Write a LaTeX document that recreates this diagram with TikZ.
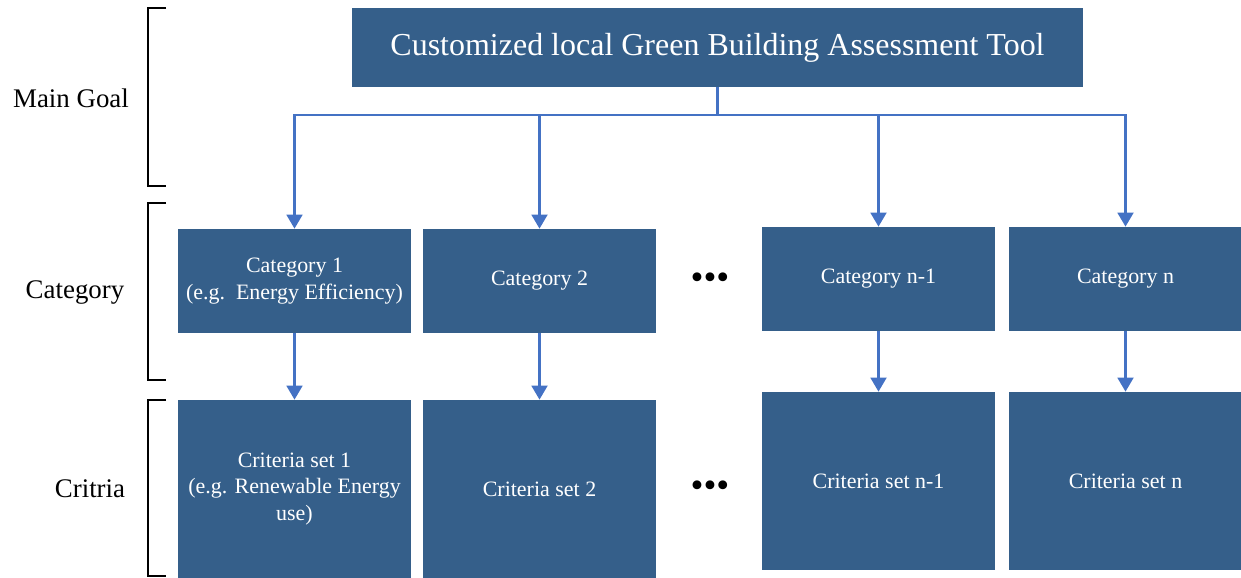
\documentclass[tikz,border=0pt]{standalone}
\usepackage{fontspec}
\setmainfont{Liberation Serif}
\usetikzlibrary{arrows.meta}
\definecolor{boxblue}{RGB}{53,95,138}
\definecolor{arrowblue}{RGB}{68,114,196}

\begin{document}
\begin{tikzpicture}[x=0.02cm, y=-0.02cm,
  box/.style={fill=boxblue, text=white, inner sep=0pt, align=center, font=\fontsize{12.5}{15}\selectfont},
  catbox/.style={box, minimum width=4.66cm, minimum height=2.08cm},
  setbox/.style={box, minimum width=4.66cm, minimum height=3.56cm},
  link/.style={draw=arrowblue, line width=1.4pt},
  arr/.style={link, -{Triangle[width=9pt,length=8pt]}},
  brace/.style={line width=1.7pt},
  level/.style={font=\fontsize{15.3}{18}\selectfont}]
\useasboundingbox (0,0) rectangle (1241,578);

\node[box, minimum width=14.62cm, minimum height=1.58cm, font=\fontsize{18.2}{21}\selectfont] (G) at (717.5,47.5) {Customized local Green Building Assessment Tool};

\node[catbox] (C1) at (294.5,281) {Category 1\\(e.g.\ \ Energy Efficiency)};
\node[catbox] (C2) at (539.5,281) {Category 2};
\node[catbox] (Cm) at (878.5,279) {Category n-1};
\node[catbox] (Cn) at (1125.5,279) {Category n};

\node[setbox] (S1) at (294.5,489) {Criteria set 1\\(e.g. Renewable Energy\\use)};
\node[setbox] (S2) at (539.5,489) {Criteria set 2};
\node[setbox] (Sm) at (878.5,481) {Criteria set n-1};
\node[setbox] (Sn) at (1125.5,481) {Criteria set n};

\node[font=\fontsize{21}{21}\selectfont] (D1) at (710,281) {•••};
\node[font=\fontsize{21}{21}\selectfont] (D2) at (710,489) {•••};

% level labels and brackets
\node[level] (L1) at (71,98) {Main Goal};
\node[level] (L2) at (75,292) {Category};
\node[level] (L3) at (90,489) {Critria};
\draw[brace] (166,8) -- (148,8) -- (148,186) -- (166,186);
\draw[brace] (166,203) -- (148,203) -- (148,380) -- (166,380);
\draw[brace] (166,400) -- (148,400) -- (148,576) -- (166,576);

\coordinate (J) at (717.5,115);
\draw[link] (G.south) -- (J);
\foreach \c in {C1,C2,Cm,Cn}
  \draw[arr] (J) -| (\c);
\foreach \c/\s in {C1/S1,C2/S2,Cm/Sm,Cn/Sn}
  \draw[arr] (\c) -- (\s);
\end{tikzpicture}
\end{document}
